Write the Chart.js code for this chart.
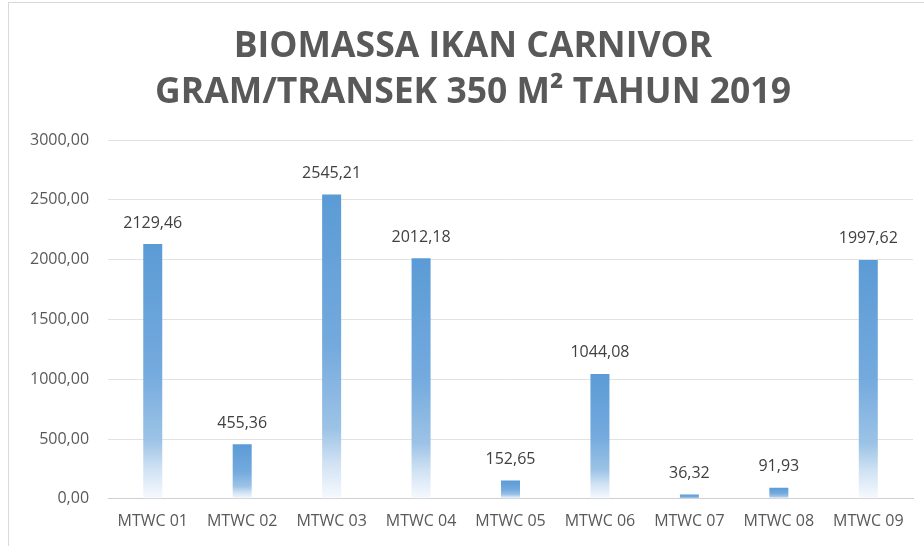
<!DOCTYPE html>
<html>
<head>
<meta charset="utf-8">
<script src="https://cdn.jsdelivr.net/npm/chart.js@4/dist/chart.umd.min.js"></script>
<style>
  html, body { margin: 0; padding: 0; background: #ffffff; }
  #wrap { position: relative; width: 924px; height: 546px; overflow: hidden; }
  #frame { position: absolute; left: 8px; top: 2px; width: 1000px; height: 1000px;
           border-left: 1px solid #d9d9d9; border-top: 1px solid #d9d9d9; box-sizing: border-box; }
  canvas { position: absolute; left: 0; top: 0; }
</style>
</head>
<body>
<div id="wrap">
  <div id="frame"></div>
  <canvas id="c" width="924" height="546"></canvas>
</div>
<script>
const titleLines = ['BIOMASSA IKAN CARNIVOR', 'GRAM/TRANSEK 350 M\u00B2 TAHUN 2019'];
const stations = ['MTWC 01', 'MTWC 02', 'MTWC 03', 'MTWC 04', 'MTWC 05', 'MTWC 06', 'MTWC 07', 'MTWC 08', 'MTWC 09'];
const biomass = [2129.46, 455.36, 2545.21, 2012.18, 152.65, 1044.08, 36.32, 91.93, 1997.62];
const yTicks = [0, 500, 1000, 1500, 2000, 2500, 3000];

const fmt = v => v.toFixed(2).replace('.', ',');
const FONT = '"Open Sans", sans-serif';

// vertical fade: solid blue at the bar top, fading to white at the base
function barFill(ctx) {
  const chart = ctx.chart;
  const y = chart.scales && chart.scales.y;
  if (!y || !chart.chartArea || ctx.raw == null) return '#5b9bd5';
  const top = y.getPixelForValue(ctx.raw);
  const base = y.getPixelForValue(0);
  if (!isFinite(top) || !isFinite(base) || base - top < 1) return '#5b9bd5';
  const g = chart.ctx.createLinearGradient(0, top, 0, base);
  g.addColorStop(0, '#5b9bd5');
  g.addColorStop(0.5, '#74aade');
  g.addColorStop(0.77, '#9cc3e6');
  g.addColorStop(0.88, '#cfe1f3');
  g.addColorStop(1, '#f7fafe');
  return g;
}

// two-line heading, centred over the whole frame (axis labels included)
const heading = {
  id: 'heading',
  afterDraw(chart) {
    const c = chart.ctx;
    const cx = (chart.scales.y.left + chart.chartArea.right) / 2 + 11;
    c.save();
    c.font = 'bold 35.5px ' + FONT;
    c.fillStyle = '#595959';
    c.textAlign = 'center';
    c.textBaseline = 'middle';
    titleLines.forEach((line, i) => c.fillText(line, cx, 47 + i * 46));
    c.restore();
  }
};

const valueLabels = {
  id: 'valueLabels',
  afterDatasetsDraw(chart) {
    const c = chart.ctx;
    const meta = chart.getDatasetMeta(0);
    c.save();
    c.font = '16px ' + FONT;
    c.fillStyle = '#404040';
    c.textAlign = 'center';
    c.textBaseline = 'middle';
    meta.data.forEach((bar, i) => {
      c.fillText(fmt(biomass[i]), bar.x, bar.y - 21);
    });
    c.restore();
  }
};

new Chart(document.getElementById('c'), {
  type: 'bar',
  data: {
    labels: stations,
    datasets: [{
      data: biomass,
      backgroundColor: barFill,
      borderWidth: 0,
      barPercentage: 0.85,
      categoryPercentage: 0.25
    }]
  },
  options: {
    responsive: false,
    animation: false,
    devicePixelRatio: 1,
    layout: { padding: { left: 11, right: 11, top: 140, bottom: 2 } },
    plugins: {
      legend: { display: false },
      tooltip: { enabled: false },
      title: { display: false }
    },
    scales: {
      x: {
        grid: { display: false, drawTicks: false },
        border: { color: '#d0d0d0' },
        ticks: { color: '#595959', font: { family: FONT, size: 16 }, padding: 13, maxRotation: 0 }
      },
      y: {
        min: 0, max: 3000,
        afterBuildTicks: axis => { axis.ticks = yTicks.map(v => ({ value: v })); },
        grid: { color: '#e2e2e2', drawTicks: false },
        border: { display: false },
        ticks: { color: '#595959', font: { family: FONT, size: 16 }, padding: 19,
                 callback: v => fmt(v) }
      }
    }
  },
  plugins: [valueLabels, heading]
});
</script>
</body>
</html>
